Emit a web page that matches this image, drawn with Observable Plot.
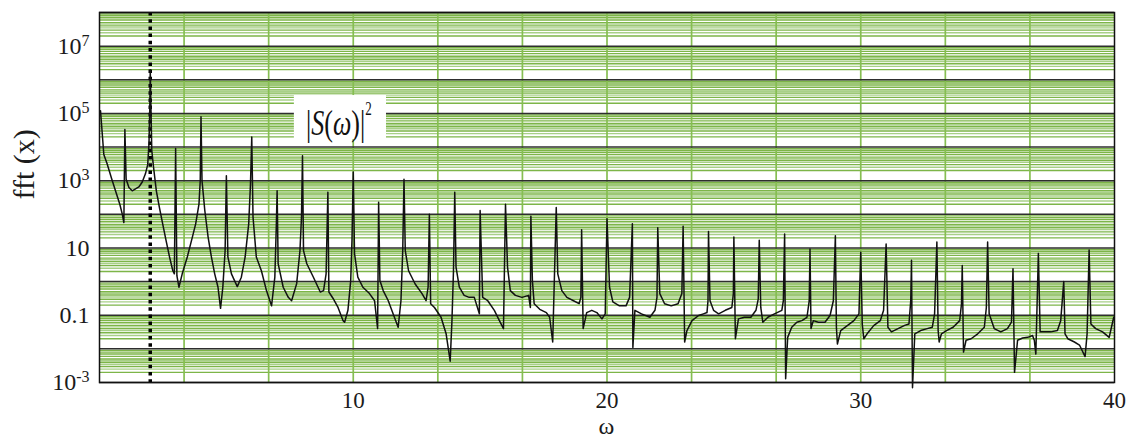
<!DOCTYPE html>
<html>
<head>
<meta charset="utf-8">
<script src="https://cdn.jsdelivr.net/npm/d3@7"></script>
<script src="https://cdn.jsdelivr.net/npm/@observablehq/plot@0.6"></script>
<style>
  body { margin: 0; background: #fff; }
</style>
</head>
<body>
<div id="chart"></div>
<script>
// Power spectrum |S(ω)|² of x(t): frequency ω and spectral power, one line per interval between harmonics
const omega = [
  0.04, 0.17, 0.30, 0.47, 0.63, 0.80, 0.90, 0.96, 1.00, 1.05, 1.16, 1.29, 1.42, 1.55, 1.68, 1.81, 1.90, 1.95, 1.98,
  2.00, 2.06, 2.13, 2.24, 2.36, 2.49, 2.62, 2.76, 2.89, 2.95, 3.00, 3.05, 3.13, 3.26, 3.46, 3.66, 3.79, 3.92, 3.97,
  4.00, 4.04, 4.15, 4.28, 4.41, 4.54, 4.67, 4.77, 4.86, 4.95, 5.00, 5.06, 5.20, 5.43, 5.59, 5.74, 5.88, 5.95,
  6.00, 6.05, 6.18, 6.38, 6.58, 6.78, 6.91, 6.97, 7.00, 7.04, 7.24, 7.44, 7.57, 7.77, 7.90, 7.96,
  8.00, 8.04, 8.17, 8.43, 8.70, 8.83, 8.93, 9.00, 9.04, 9.20, 9.40, 9.60, 9.66, 9.79, 9.90, 9.95,
  10.00, 10.05, 10.18, 10.38, 10.64, 10.84, 10.96, 11.00, 11.05, 11.18, 11.38, 11.57, 11.77, 11.88, 11.95,
  12.00, 12.05, 12.18, 12.44, 12.71, 12.87, 12.95, 13.00, 13.05, 13.20, 13.46, 13.66, 13.82, 13.89, 13.95,
  14.00, 14.05, 14.18, 14.37, 14.57, 14.77, 14.97, 15.00, 15.10, 15.30, 15.56, 15.76, 15.92,
  16.00, 16.08, 16.19, 16.39, 16.65, 16.91, 16.98, 17.00, 17.06, 17.13, 17.35, 17.61, 17.74, 17.86,
  18.00, 18.06, 18.22, 18.42, 18.68, 18.90, 18.97, 19.00, 19.06, 19.20, 19.40, 19.60, 19.80, 19.93,
  20.00, 20.10, 20.23, 20.49, 20.75, 20.89, 21.00, 21.02, 21.10, 21.36, 21.69, 21.89, 21.97,
  22.00, 22.08, 22.27, 22.53, 22.80, 22.95, 23.00, 23.06, 23.15, 23.35, 23.61, 23.80, 23.94, 23.98,
  24.00, 24.06, 24.20, 24.40, 24.66, 24.92, 24.98, 25.00, 25.06, 25.18, 25.41, 25.67, 25.87, 25.96,
  26.00, 26.06, 26.14, 26.34, 26.60, 26.89, 26.95, 27.00, 27.04, 27.12, 27.28, 27.48, 27.68, 27.88, 27.97,
  28.00, 28.04, 28.13, 28.33, 28.59, 28.79, 28.92, 29.00, 29.04, 29.08, 29.21, 29.47, 29.73, 29.93,
  30.00, 30.06, 30.12, 30.25, 30.51, 30.77, 30.90, 31.00, 31.07, 31.21, 31.47, 31.73, 31.90, 31.97,
  32.00, 32.04, 32.13, 32.36, 32.62, 32.82, 32.91, 33.00, 33.05, 33.09, 33.18, 33.38, 33.64, 33.90, 33.97,
  34.00, 34.05, 34.15, 34.35, 34.61, 34.87, 34.95, 35.00, 35.06, 35.26, 35.52, 35.78, 35.94,
  36.00, 36.06, 36.18, 36.38, 36.58, 36.77, 36.84, 36.90, 37.00, 37.07, 37.23, 37.49, 37.75, 37.88,
  38.00, 38.05, 38.16, 38.42, 38.62, 38.84, 38.92, 39.00, 39.07, 39.26, 39.53, 39.79, 39.88, 39.97
];
const power = [
  1.2e5, 6e3, 3.2e3, 1.2e3, 5e2, 2e2, 1e2, 57, 3.3e4, 1.1e3, 6.3e2, 5e2, 5.7e2, 6.5e2, 9e2, 1.6e3, 3e3, 1.3e4, 1.2e5,
  2e6, 8e3, 2.5e3, 5e2, 1.6e2, 52, 17, 5.4, 2.1, 1.7, 9e3, 1.5, 0.68, 1.7, 5.4, 21, 52, 2e2, 1e3,
  8e4, 1e3, 1.3e2, 21, 5.4, 1.7, 0.68, 0.16, 0.68, 8.3, 1.4e3, 5.4, 1.7, 0.71, 1.35, 5.4, 52, 8e2,
  2e4, 83, 5.4, 2.1, 0.54, 0.19, 1.35, 52, 5e2, 3.4, 0.68, 0.34, 0.27, 0.87, 8.3, 83,
  5.5e3, 8.3, 3.4, 1.35, 0.49, 0.54, 1.7, 4.5e2, 0.49, 0.32, 0.17, 0.069, 0.062, 0.14, 1.07, 17,
  1.8e3, 6.8, 1.35, 0.68, 0.44, 0.27, 0.04, 2.3e2, 1.07, 0.54, 0.27, 0.11, 0.044, 0.27, 8.3,
  1.1e3, 8.3, 2.1, 0.85, 0.44, 0.27, 0.68, 1e2, 0.22, 0.17, 0.087, 0.028, 0.0043, 0.069, 2.1,
  4.5e2, 2.7, 0.68, 0.39, 0.34, 0.34, 0.11, 1.3e2, 0.34, 0.27, 0.14, 0.069, 0.04,
  2e2, 2.7, 0.54, 0.39, 0.34, 0.39, 0.17, 87, 1.07, 0.22, 0.15, 0.12, 0.087, 0.016,
  1.6e2, 1.7, 0.54, 0.34, 0.27, 0.22, 0.34, 35, 0.04, 0.12, 0.14, 0.12, 0.078, 0.11,
  74, 0.68, 0.25, 0.19, 0.19, 0.34, 52, 0.011, 0.14, 0.11, 0.087, 0.14, 0.34,
  40, 0.44, 0.22, 0.19, 0.22, 0.44, 44, 0.016, 0.035, 0.069, 0.098, 0.11, 0.12, 0.27,
  31, 0.27, 0.14, 0.11, 0.14, 0.17, 0.44, 21, 0.02, 0.078, 0.087, 0.087, 0.14, 0.3,
  17, 0.17, 0.062, 0.087, 0.11, 0.14, 0.27, 26, 0.0013, 0.022, 0.044, 0.062, 0.069, 0.087, 0.27,
  9.3, 0.04, 0.069, 0.062, 0.062, 0.098, 0.27, 23, 0.044, 0.014, 0.035, 0.049, 0.069, 0.11,
  7.4, 0.055, 0.02, 0.028, 0.049, 0.069, 0.14, 13, 0.044, 0.032, 0.04, 0.05, 0.055, 0.27,
  4.3, 7e-4, 0.028, 0.035, 0.04, 0.044, 0.11, 15, 0.035, 0.016, 0.028, 0.035, 0.044, 0.069, 0.22,
  3, 0.008, 0.018, 0.02, 0.028, 0.044, 0.17, 15, 0.11, 0.04, 0.032, 0.04, 0.062,
  2.4, 0.002, 0.018, 0.021, 0.022, 0.025, 0.018, 0.007, 6.9, 0.032, 0.032, 0.032, 0.035, 0.069,
  1.0, 0.028, 0.02, 0.016, 0.013, 0.0059, 0.028, 8.7, 0.055, 0.04, 0.032, 0.022, 0.044, 0.087
];

// Axis ticks and labels
const xTicks = [10, 20, 30, 40];
const yTicks = [1e7, 1e5, 1e3, 10, 0.1, 1e-3];
const yTickLabels = ["10^7", "10^5", "10^3", "10", "0.1", "10^-3"];
const xTitle = "ω";
const yTitle = "fft (x)";

// Grid: decade lines, minor steps inside each decade, vertical lines every 10/3 in ω
const decadeExponents = d3.range(-3, 9);
const minorSteps = [2, 2.5, 3, 3.5, 4, 4.5, 5, 6, 7, 8, 9];
const vGridCount = 11;
const omega0 = 2;   // drive frequency, dotted marker

// Legend box for |S(ω)|² (data coordinates)
const labelBox = {x1: 7.68, x2: 11.31, y1: 1.66e4, y2: 3.4e5};
const labelAt = {x: 8.16, y: 2.2e4};

const rows = omega.map((w, i) => ({w, p: power[i]}));
const decades = decadeExponents.map(e => Math.pow(10, e));
const minor = decades.slice(0, -1).flatMap(d => minorSteps.map(m => ({v: d * m, strong: Number.isInteger(m)})));
const vGrid = d3.range(1, vGridCount + 1).map(i => i * 10 / 3);
const yLabelOf = new Map(yTicks.map((t, i) => [t, yTickLabels[i]]));

const ink = "#1b1b1b";
const green = "#7db548";
const greenLight = "#a8d088";

const plot = Plot.plot({
  width: 1129,
  height: 439,
  marginTop: 12,
  marginRight: 15,
  marginBottom: 57,
  marginLeft: 99,
  style: {
    fontFamily: "Liberation Serif",
    fontSize: "24px",
    color: ink,
    background: "#fff",
    overflow: "visible"
  },
  x: {domain: [0, 40]},
  y: {type: "log", domain: [1e-3, 1e8]},
  marks: [
    Plot.ruleY(minor.filter(d => !d.strong), {y: "v", stroke: greenLight, strokeWidth: 1.4}),
    Plot.ruleY(minor.filter(d => d.strong), {y: "v", stroke: green, strokeWidth: 1.4}),
    Plot.ruleX(vGrid, {stroke: "#86be52", strokeWidth: 1.7}),
    Plot.ruleY(decades, {stroke: "#2e2e2e", strokeWidth: 1.5}),
    Plot.rect([labelBox], {x1: "x1", x2: "x2", y1: "y1", y2: "y2", fill: "#fff"}),
    Plot.ruleX([omega0], {stroke: "#000", strokeWidth: 3.5, strokeDasharray: "3.5,3.7"}),
    Plot.line(rows, {x: "w", y: "p", stroke: "#111", strokeWidth: 1.5}),
    Plot.frame({stroke: "#111", strokeWidth: 1.5}),
    Plot.axisX(xTicks, {tickSize: 0, tickPadding: 9, label: null, fontSize: 23, tickFormat: d => String(d)}),
    Plot.axisY(yTicks, {tickSize: 0, tickPadding: 10, label: null, fontSize: 24, tickFormat: d => yLabelOf.get(d)}),
    Plot.text([yTitle], {frameAnchor: "left", rotate: -90, dx: -75, dy: 2, fontSize: 30, fill: ink})
  ]
});

const svg = d3.select(plot);

// Superscript exponents on the y tick labels
svg.selectAll('g[aria-label="y-axis tick label"] text').each(function () {
  const s = this.textContent;
  const k = s.indexOf("^");
  if (k < 0) return;
  const t = d3.select(this);
  t.text(s.slice(0, k));
  t.append("tspan").attr("dy", -8).attr("font-size", 16).text(s.slice(k + 1));
});

const sx = plot.scale("x"), sy = plot.scale("y");

// x-axis title, baseline just above the bottom edge
svg.append("text")
  .attr("x", sx.apply(20))
  .attr("y", 434)
  .attr("text-anchor", "middle")
  .attr("font-size", 24)
  .attr("fill", ink)
  .text(xTitle);

// |S(ω)|² annotation
const ax = sx.apply(labelAt.x), ay = sy.apply(labelAt.y);
const lab = svg.append("text")
  .attr("transform", `translate(${ax},${ay}) scale(1,1.4)`)
  .attr("text-anchor", "start")
  .attr("font-size", 26)
  .attr("fill", "#111");
lab.append("tspan").text("|");
lab.append("tspan").attr("font-style", "italic").text("S");
lab.append("tspan").text("(");
lab.append("tspan").attr("font-style", "italic").text("ω");
lab.append("tspan").text(")");
lab.append("tspan").text("|");
lab.append("tspan").attr("dy", -14).attr("font-size", 13).text("2");

document.getElementById("chart").appendChild(plot);
</script>
</body>
</html>
